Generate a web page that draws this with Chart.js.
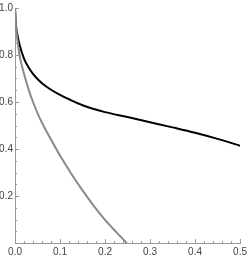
<!DOCTYPE html>
<html>
<head>
<meta charset="utf-8">
<script src="https://cdn.jsdelivr.net/npm/chart.js@4"></script>
<style>
  html, body { margin: 0; padding: 0; background: #fff; }
  #wrap { width: 250px; height: 257px; }
</style>
</head>
<body>
<div id="wrap"><canvas id="c"></canvas></div>
<script>
// 검은 곡선
const blackX = [0, 0.002, 0.005, 0.01, 0.02, 0.03, 0.04, 0.05, 0.06, 0.08, 0.10, 0.125, 0.15, 0.175, 0.2, 0.25, 0.3, 0.35, 0.4, 0.45, 0.5];
const blackY = [1.0, 0.93, 0.89, 0.845, 0.785, 0.748, 0.72, 0.698, 0.68, 0.652, 0.63, 0.607, 0.586, 0.570, 0.557, 0.536, 0.514, 0.492, 0.469, 0.443, 0.414];
// 회색 곡선
const grayX = [0, 0.002, 0.005, 0.01, 0.02, 0.03, 0.04, 0.05, 0.06, 0.08, 0.10, 0.125, 0.15, 0.175, 0.2, 0.225, 0.248];
const grayY = [1.0, 0.925, 0.87, 0.80, 0.72, 0.655, 0.60, 0.553, 0.512, 0.44, 0.372, 0.295, 0.224, 0.158, 0.098, 0.046, 0.0];
// 눈금
const xTicks = [0, 0.1, 0.2, 0.3, 0.4, 0.5];
const yTicks = [0.2, 0.4, 0.6, 0.8, 1.0];

const toPts = (xs, ys) => xs.map((x, i) => ({ x: x, y: ys[i] }));

// 안쪽으로 향하는 눈금 그리기
const innerTicks = {
  id: 'innerTicks',
  afterDatasetsDraw(chart) {
    const ctx = chart.ctx;
    const xs = chart.scales.x, ys = chart.scales.y;
    const x0 = xs.getPixelForValue(0), y0 = ys.getPixelForValue(0);
    ctx.save();
    ctx.strokeStyle = '#999';
    ctx.lineWidth = 1;
    ctx.beginPath();
    for (let i = 1; i <= 25; i++) {
      const px = Math.round(xs.getPixelForValue(i * 0.02)) + 0.5;
      const len = i % 5 === 0 ? 4 : 2;
      ctx.moveTo(px, y0);
      ctx.lineTo(px, y0 - len);
    }
    for (let i = 1; i <= 20; i++) {
      const py = Math.round(ys.getPixelForValue(i * 0.05)) + 0.5;
      const len = i % 4 === 0 ? 4 : 2;
      ctx.moveTo(x0, py);
      ctx.lineTo(x0 + len, py);
    }
    ctx.stroke();
    ctx.restore();
  }
};

new Chart(document.getElementById('c'), {
  type: 'line',
  data: {
    datasets: [
      {
        data: toPts(grayX, grayY),
        borderColor: '#8a8a8a',
        borderWidth: 2,
        pointRadius: 0,
        cubicInterpolationMode: 'monotone'
      },
      {
        data: toPts(blackX, blackY),
        borderColor: '#000',
        borderWidth: 2,
        pointRadius: 0,
        cubicInterpolationMode: 'monotone'
      }
    ]
  },
  options: {
    responsive: true,
    maintainAspectRatio: false,
    animation: false,
    layout: { padding: { top: 5, right: 6, left: 0, bottom: 0 } },
    plugins: { legend: { display: false }, tooltip: { enabled: false } },
    scales: {
      x: {
        type: 'linear',
        min: 0, max: 0.5,
        afterBuildTicks: s => { s.ticks = xTicks.map(v => ({ value: v })); },
        afterFit: s => { s.height = 14; },
        grid: { display: false, drawTicks: false },
        border: { display: true, color: '#999', width: 1 },
        ticks: {
          padding: 3,
          color: '#444',
          font: { family: 'Liberation Sans', size: 10 },
          maxRotation: 0,
          callback: v => v.toFixed(1)
        }
      },
      y: {
        type: 'linear',
        min: 0, max: 1,
        afterBuildTicks: s => { s.ticks = yTicks.map(v => ({ value: v })); },
        afterFit: s => { s.width = 15; },
        grid: { display: false, drawTicks: false },
        border: { display: true, color: '#999', width: 1 },
        ticks: {
          padding: 2,
          color: '#444',
          font: { family: 'Liberation Sans', size: 10 },
          callback: v => v.toFixed(1)
        }
      }
    }
  },
  plugins: [innerTicks]
});
</script>
</body>
</html>
